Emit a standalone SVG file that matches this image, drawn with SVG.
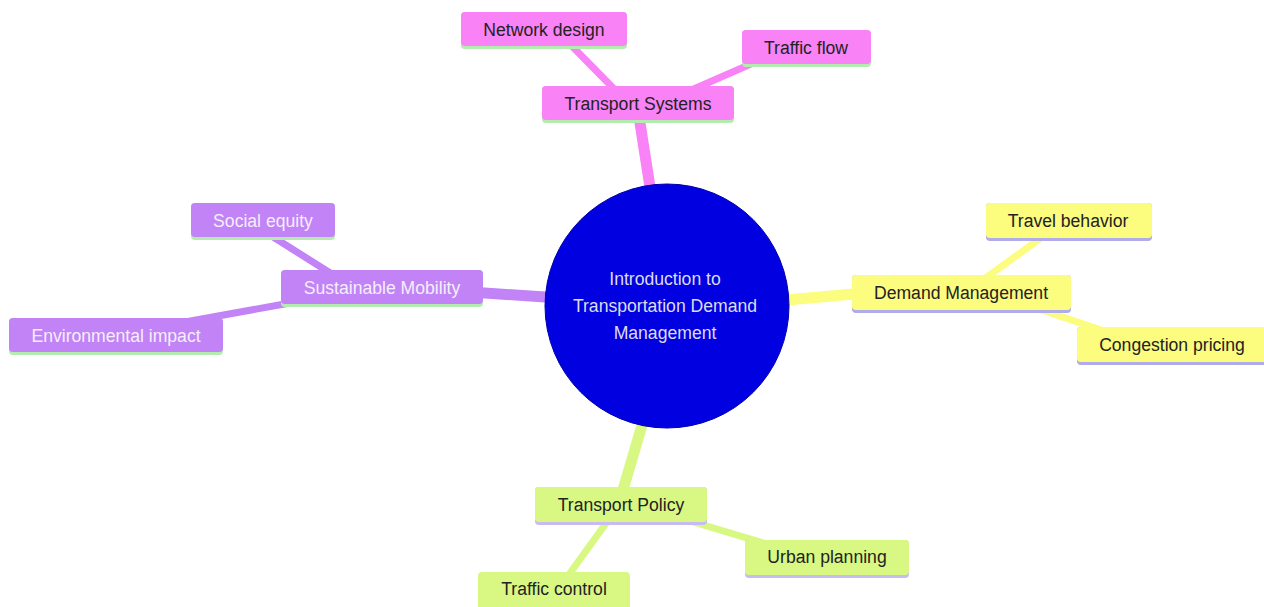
<svg xmlns="http://www.w3.org/2000/svg" width="1264" height="607" viewBox="0 0 1264 607">
<style>
text{font-family:"Liberation Sans",Arial,sans-serif;font-size:17.6px;text-anchor:middle;dominant-baseline:central}
.dk{fill:#222}
.lt{fill:#f4eefc}
.rt{fill:#dcdcec}
.pk{fill:#f882f6}
.pu{fill:#c283f6}
.ye{fill:#fcfc7e}
.gr{fill:#d9f883}
.e1{stroke-width:11;fill:none;stroke-linecap:butt}
.e2{stroke-width:7;fill:none;stroke-linecap:butt}
.spk{stroke:#f882f6}.spu{stroke:#c283f6}.sye{stroke:#fcfc7e}.sgr{stroke:#d9f883}
.bg{fill:#b4ecb0}.bp{fill:#b0acea}.bl{fill:#c8baf2}
</style>
<g id="connectors">
<line class="e1 spk" x1="652" y1="200" x2="638" y2="110"/>
<line class="e2 spk" x1="620" y1="95" x2="566" y2="40"/>
<line class="e2 spk" x1="680" y1="95" x2="760" y2="60"/>
<line class="e1 spu" x1="560" y1="298" x2="470" y2="292"/>
<line class="e2 spu" x1="335" y1="276" x2="270" y2="235"/>
<line class="e2 spu" x1="290" y1="303" x2="185" y2="322"/>
<line class="e1 sye" x1="775" y1="301" x2="865" y2="293"/>
<line class="e2 sye" x1="980" y1="282" x2="1045" y2="235"/>
<line class="e2 sye" x1="1030" y1="306" x2="1110" y2="333"/>
<line class="e1 sgr" x1="645" y1="415" x2="620" y2="500"/>
<line class="e2 sgr" x1="612" y1="515" x2="565" y2="580"/>
<line class="e2 sgr" x1="680" y1="518" x2="770" y2="545"/>
</g>
<g id="root">
<circle cx="667" cy="306" r="122" fill="#0000e0" stroke="#0000b0" stroke-width="1"/>
<text x="665" y="279" class="rt">Introduction to</text>
<text x="665" y="306" class="rt">Transportation Demand</text>
<text x="665" y="333" class="rt">Management</text>
</g>
<g id="transport-systems">
<rect x="542" y="86" width="192" height="37" rx="4" class="bg"/>
<rect x="542" y="86" width="192" height="34" rx="4" class="pk"/>
<text x="638" y="104" class="dk">Transport Systems</text>
</g>
<g id="network-design">
<rect x="461" y="12" width="166" height="37" rx="4" class="bg"/>
<rect x="461" y="12" width="166" height="34" rx="4" class="pk"/>
<text x="544" y="30" class="dk">Network design</text>
</g>
<g id="traffic-flow">
<rect x="742" y="30" width="129" height="37" rx="4" class="bg"/>
<rect x="742" y="30" width="129" height="34" rx="4" class="pk"/>
<text x="806" y="48" class="dk">Traffic flow</text>
</g>
<g id="sustainable-mobility">
<rect x="281" y="270" width="202" height="37" rx="4" class="bg"/>
<rect x="281" y="270" width="202" height="34" rx="4" class="pu"/>
<text x="382" y="288" class="lt">Sustainable Mobility</text>
</g>
<g id="social-equity">
<rect x="191" y="203" width="144" height="37" rx="4" class="bg"/>
<rect x="191" y="203" width="144" height="34" rx="4" class="pu"/>
<text x="263" y="221" class="lt">Social equity</text>
</g>
<g id="environmental-impact">
<rect x="9" y="318" width="214" height="37" rx="4" class="bg"/>
<rect x="9" y="318" width="214" height="34" rx="4" class="pu"/>
<text x="116" y="336" class="lt">Environmental impact</text>
</g>
<g id="demand-management">
<rect x="852" y="275" width="219" height="38" rx="4" class="bp"/>
<rect x="852" y="275" width="219" height="35" rx="4" class="ye"/>
<text x="961" y="293" class="dk">Demand Management</text>
</g>
<g id="travel-behavior">
<rect x="986" y="203" width="166" height="38" rx="4" class="bp"/>
<rect x="986" y="203" width="166" height="35" rx="4" class="ye"/>
<text x="1068" y="221" class="dk">Travel behavior</text>
</g>
<g id="congestion-pricing">
<rect x="1077" y="327" width="190" height="38" rx="4" class="bp"/>
<rect x="1077" y="327" width="190" height="35" rx="4" class="ye"/>
<text x="1172" y="345" class="dk">Congestion pricing</text>
</g>
<g id="transport-policy">
<rect x="535" y="487" width="172" height="38" rx="4" class="bl"/>
<rect x="535" y="487" width="172" height="35" rx="4" class="gr"/>
<text x="621" y="505" class="dk">Transport Policy</text>
</g>
<g id="urban-planning">
<rect x="745" y="540" width="164" height="38" rx="4" class="bl"/>
<rect x="745" y="540" width="164" height="35" rx="4" class="gr"/>
<text x="827" y="557" class="dk">Urban planning</text>
</g>
<g id="traffic-control">
<rect x="478" y="572" width="152" height="40" rx="4" class="gr"/>
<text x="554" y="589" class="dk">Traffic control</text>
</g>
</svg>
